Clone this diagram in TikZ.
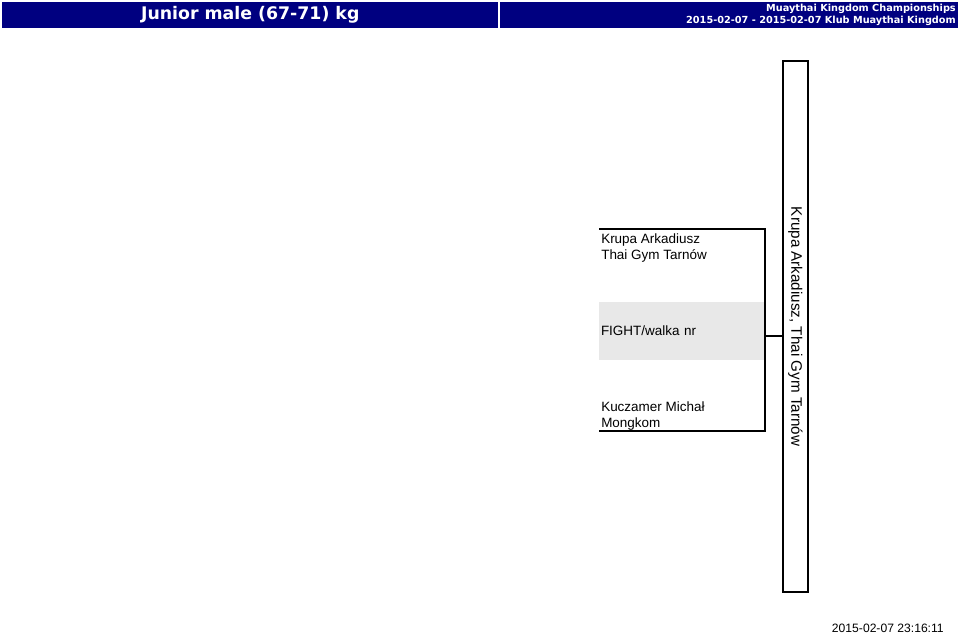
\documentclass[tikz,border=0pt]{standalone}
\usepackage{fontspec}
\setmainfont{Liberation Sans}
\newfontfamily\headfont{DejaVu Sans}
\definecolor{headblue}{RGB}{0,0,128}
\definecolor{fightgray}{RGB}{232,232,232}
\tikzset{x=0.75pt,y=-0.75pt}

\begin{document}
\begin{tikzpicture}[
            headcell/.style={fill=headblue,inner sep=0pt,minimum height=19.5pt},
            fighter/.style={inner xsep=1.5pt,inner ysep=0pt,align=left,
                font=\fontsize{10.1pt}{12pt}\selectfont},
            fightbox/.style={fill=fightgray,inner xsep=1.5pt,inner ysep=0pt,
                text width=121.5pt,minimum height=43.5pt,align=left,
                font=\fontsize{10.1pt}{12pt}\selectfont},
            bracket/.style={draw,line width=1.3pt},
            winnerbox/.style={draw,line width=1.6pt,rotate=-90,inner sep=0pt,
                minimum width=398.25pt,minimum height=18.75pt,
                font=\fontsize{11.4pt}{13pt}\selectfont}
            ]
            \useasboundingbox (0,0) rectangle (960,634);
            % header
            \node[headcell,minimum width=372pt,anchor=north west] (lefthead) at (2,2) {};
            \node[headcell,minimum width=343.5pt,anchor=north west] (righthead) at (500,2) {};
            \node[text=white,font=\headfont\bfseries\fontsize{13pt}{15pt}\selectfont] (title) at (lefthead.center) {Junior male (67-71) kg};
            \node[text=white,anchor=base east,align=right,inner sep=0pt,
                font=\headfont\bfseries\fontsize{7.3pt}{9pt}\selectfont] (event) at (956,24)
                {Muaythai Kingdom Championships\\2015-02-07 - 2015-02-07 Klub Muaythai Kingdom};
            % fight
            \node[fightbox] (fight) at (682,331) {FIGHT/walka nr\\[-1pt]};
            \node[fighter,anchor=base west] (red) at (599,260) {Krupa Arkadiusz\\Thai Gym Tarnów};
            \node[fighter,anchor=base west] (blue) at (599,427) {Kuczamer Michał\\Mongkom};
            \coordinate (bracketTop) at (599,229);
            \coordinate (bracketBottom) at (599,431);
            \draw[bracket] (bracketTop) -| (fight.east |- bracketBottom) -- (bracketBottom);
            % winner
            \node[winnerbox] (winner) at (795.5,326.5) {Krupa Arkadiusz, Thai Gym Tarnów\hspace{9pt}};
            \coordinate (join) at (fight.east |- 0,336);
            \draw[line width=1pt] (join) -- (join -| winner.south);
            % footer
            \node[anchor=base east,inner sep=0pt,font=\fontsize{9.1pt}{11pt}\selectfont] (stamp) at (944,632) {2015-02-07 23:16:11};
        \end{tikzpicture}
\end{document}
